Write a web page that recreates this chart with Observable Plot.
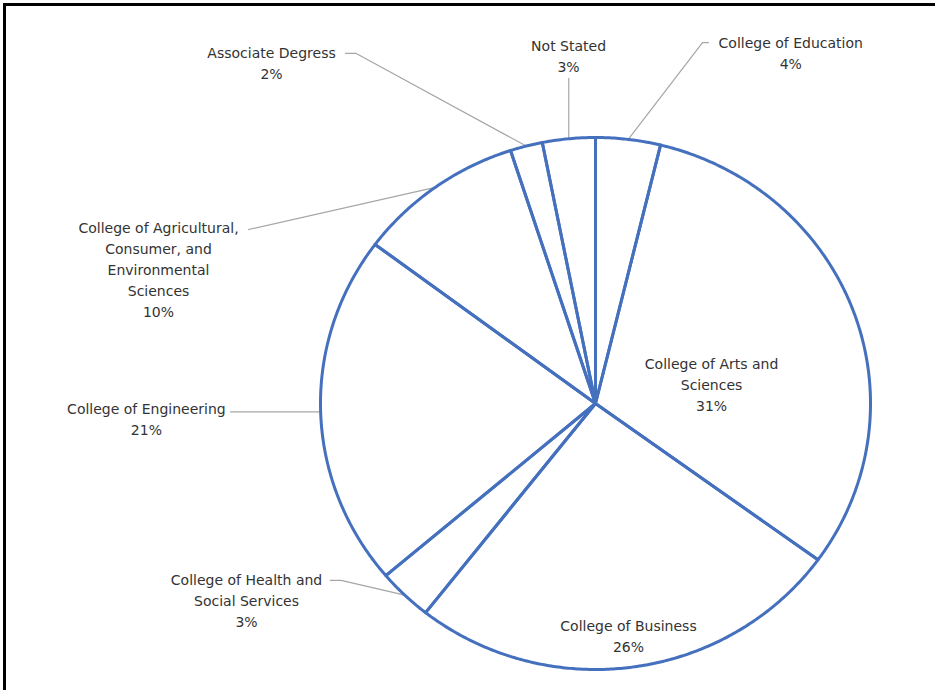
<!DOCTYPE html>
<html><head><meta charset="utf-8">
<script src="https://cdn.jsdelivr.net/npm/d3@7"></script>
<script src="https://cdn.jsdelivr.net/npm/@observablehq/plot@0.6"></script>
<style>
body{margin:0;background:#fff}
#wrap{position:relative;width:935px;height:690px;overflow:hidden}
#wrap::before{content:"";position:absolute;left:3px;top:3px;right:-10px;bottom:-10px;border-left:3px solid #000;border-top:3px solid #000;pointer-events:none}
</style></head><body><div id="wrap"></div>
<script>
// ---- data ----
const categories = [
  "College of Education",
  "College of Arts and Sciences",
  "College of Business",
  "College of Health and Social Services",
  "College of Engineering",
  "College of Agricultural, Consumer, and Environmental Sciences",
  "Associate Degress",
  "Not Stated"
];
const labelLines = [
  "College of Education",
  "College of Arts and\nSciences",
  "College of Business",
  "College of Health and\nSocial Services",
  "College of Engineering",
  "College of Agricultural,\nConsumer, and\nEnvironmental\nSciences",
  "Associate Degress",
  "Not Stated"
];
const shares = [3.8, 31.2, 25.6, 3.2, 21.4, 9.8, 1.9, 3.1];

// ---- layout (pie units: radius = 1) ----
const labelPos = [
  {lx: 0.710, ly: 1.323, lead: [[0.411, 1.357], [0.389, 1.357]]},
  {lx: 0.422, ly: 0.075, lead: null},
  {lx: 0.120, ly: -0.870, lead: null},
  {lx: -1.269, ly: -0.737, lead: [[-0.964, -0.665], [-0.925, -0.665]]},
  {lx: -1.633, ly: -0.055, lead: [[-1.327, null]]},
  {lx: -1.589, ly: 0.509, lead: [[-1.262, 0.654]]},
  {lx: -1.178, ly: 1.286, lead: [[-0.909, 1.316], [-0.870, 1.316]]},
  {lx: -0.098, ly: 1.310, lead: [[null, 1.222]]}
];

// ---- geometry from data ----
const total = d3.sum(shares);
let cum = 0;
const slices = shares.map((v, i) => {
  const a0 = cum / total * 2 * Math.PI;
  cum += v;
  const a1 = cum / total * 2 * Math.PI;
  return {name: categories[i], a0, a1, mid: (a0 + a1) / 2, value: v};
});
const slicePts = [];
for (const s of slices) {
  slicePts.push({name: s.name, x: 0, y: 0});
  const n = Math.max(2, Math.ceil((s.a1 - s.a0) / (Math.PI / 360)));
  for (let k = 0; k <= n; k++) {
    const a = s.a0 + (s.a1 - s.a0) * k / n;
    slicePts.push({name: s.name, x: Math.sin(a), y: Math.cos(a)});
  }
  slicePts.push({name: s.name, x: 0, y: 0});
}
const leaderPts = [];
slices.forEach((s, i) => {
  const L = labelPos[i].lead;
  if (!L) return;
  const rx = Math.sin(s.mid), ry = Math.cos(s.mid);
  L.forEach(([px, py]) => leaderPts.push({name: s.name, x: px == null ? rx : px, y: py == null ? ry : py}));
  leaderPts.push({name: s.name, x: rx, y: ry});
});
const labels = slices.map((s, i) => ({
  x: labelPos[i].lx, y: labelPos[i].ly,
  text: labelLines[i] + "\n" + Math.round(s.value) + "%"
}));

const chart = Plot.plot({
  width: 935, height: 690,
  marginTop: 0, marginRight: 0, marginBottom: 0, marginLeft: 0,
  x: {domain: [-1, 1], range: [320, 870], axis: null},
  y: {domain: [-1, 1], range: [669, 137], axis: null},
  style: {background: "white", fontFamily: "'DejaVu Sans', sans-serif"},
  marks: [
    Plot.line(leaderPts, {x: "x", y: "y", z: "name", stroke: "#A6A6A6", strokeWidth: 1.2}),
    Plot.line(slicePts, {x: "x", y: "y", z: "name", stroke: "#4470BE", strokeWidth: 3, strokeLinejoin: "round"}),
    Plot.text(labels, {x: "x", y: "y", text: "text", fontSize: 14, fill: "#333333", lineHeight: 1.5, textAnchor: "middle"})
  ]
});
document.getElementById("wrap").appendChild(chart);
</script></body></html>
